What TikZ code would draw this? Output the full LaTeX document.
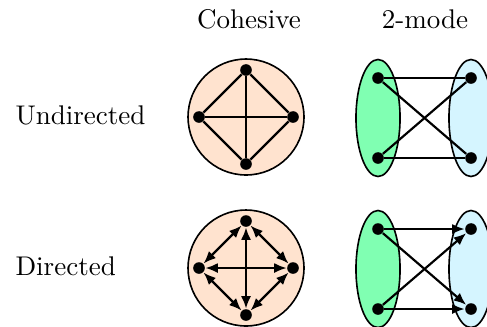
\documentclass[tikz,border=0pt]{standalone}
\usetikzlibrary{shapes.geometric,arrows.meta}
\definecolor{peche}{RGB}{255,227,207}
\definecolor{vertmenthe}{RGB}{128,255,178}
\definecolor{bleuciel}{RGB}{213,245,255}
\begin{document}
\begin{tikzpicture}[x=0.37pt,y=-0.37pt]
% Styles (MODIFIABLES)
\tikzstyle{arete}=[-,thick]
\tikzstyle{fleche}=[->,>={Latex[length=4.6pt,width=3.7pt]},thick]
\tikzstyle{doublefleche}=[<->,>={Latex[length=4.6pt,width=3.7pt]},thick]
\tikzstyle{sommet}=[circle,fill=black,inner sep=0pt,minimum size=4.3pt]
\tikzstyle{groupe}=[circle,draw,semithick,fill=peche,inner sep=0pt,minimum size=42.9pt]
\tikzstyle{modeA}=[ellipse,draw,semithick,fill=vertmenthe,inner sep=0pt,minimum width=16.3pt,minimum height=43.3pt]
\tikzstyle{modeB}=[modeA,fill=bleuciel]
\tikzstyle{titre}=[inner sep=0pt]
\tikzstyle{ligne}=[anchor=west,inner sep=0pt]
% Dimensions (MODIFIABLES)
\def\ColTitres{15}
\def\ColCohesif{246}
\def\ColGauche{378}
\def\ColDroite{471}
\def\LigneA{117}
\def\LigneB{268}
\def\Rayon{47}
\def\DemiEcart{40}
\useasboundingbox (0,0) rectangle (487,326);
% Titres
\node[titre] (Tcoh) at (249,19) {Cohesive};
\node[titre] (Tmode) at (425,19) {2-mode};
\node[ligne] (Tund) at (\ColTitres,115) {Undirected};
\node[ligne] (Tdir) at (\ColTitres,266) {Directed};
% Noeuds : ligne A (non oriente)
\node[groupe] (GA) at (\ColCohesif,\LigneA) {};
\node[sommet] (GAh) at (\ColCohesif,{\LigneA-\Rayon}) {};
\node[sommet] (GAg) at ({\ColCohesif-\Rayon},\LigneA) {};
\node[sommet] (GAd) at ({\ColCohesif+\Rayon},\LigneA) {};
\node[sommet] (GAb) at (\ColCohesif,{\LigneA+\Rayon}) {};
\node[modeA] (MAg) at (\ColGauche,{\LigneA+1}) {};
\node[modeB] (MAd) at (\ColDroite,{\LigneA+1}) {};
\node[sommet] (MAgh) at (\ColGauche,{\LigneA+1-\DemiEcart}) {};
\node[sommet] (MAgb) at (\ColGauche,{\LigneA+1+\DemiEcart}) {};
\node[sommet] (MAdh) at (\ColDroite,{\LigneA+1-\DemiEcart}) {};
\node[sommet] (MAdb) at (\ColDroite,{\LigneA+1+\DemiEcart}) {};
% Noeuds : ligne B (oriente)
\node[groupe] (GB) at (\ColCohesif,\LigneB) {};
\node[sommet] (GBh) at (\ColCohesif,{\LigneB-\Rayon}) {};
\node[sommet] (GBg) at ({\ColCohesif-\Rayon},\LigneB) {};
\node[sommet] (GBd) at ({\ColCohesif+\Rayon},\LigneB) {};
\node[sommet] (GBb) at (\ColCohesif,{\LigneB+\Rayon}) {};
\node[modeA] (MBg) at (\ColGauche,{\LigneB+1}) {};
\node[modeB] (MBd) at (\ColDroite,{\LigneB+1}) {};
\node[sommet] (MBgh) at (\ColGauche,{\LigneB+1-\DemiEcart}) {};
\node[sommet] (MBgb) at (\ColGauche,{\LigneB+1+\DemiEcart}) {};
\node[sommet] (MBdh) at (\ColDroite,{\LigneB+1-\DemiEcart}) {};
\node[sommet] (MBdb) at (\ColDroite,{\LigneB+1+\DemiEcart}) {};
% Arcs : ligne A
\draw[arete] (GAh)--(GAg);
\draw[arete] (GAh)--(GAd);
\draw[arete] (GAh)--(GAb);
\draw[arete] (GAg)--(GAd);
\draw[arete] (GAg)--(GAb);
\draw[arete] (GAd)--(GAb);
\draw[arete] (MAgh)--(MAdh);
\draw[arete] (MAgh)--(MAdb);
\draw[arete] (MAgb)--(MAdh);
\draw[arete] (MAgb)--(MAdb);
% Arcs : ligne B
\draw[doublefleche] (GBh)--(GBg);
\draw[doublefleche] (GBh)--(GBd);
\draw[doublefleche] (GBh)--(GBb);
\draw[doublefleche] (GBg)--(GBd);
\draw[doublefleche] (GBg)--(GBb);
\draw[doublefleche] (GBd)--(GBb);
\draw[fleche] (MBgh)--(MBdh);
\draw[fleche] (MBgh)--(MBdb);
\draw[fleche] (MBgb)--(MBdh);
\draw[fleche] (MBgb)--(MBdb);
\end{tikzpicture}
\end{document}
